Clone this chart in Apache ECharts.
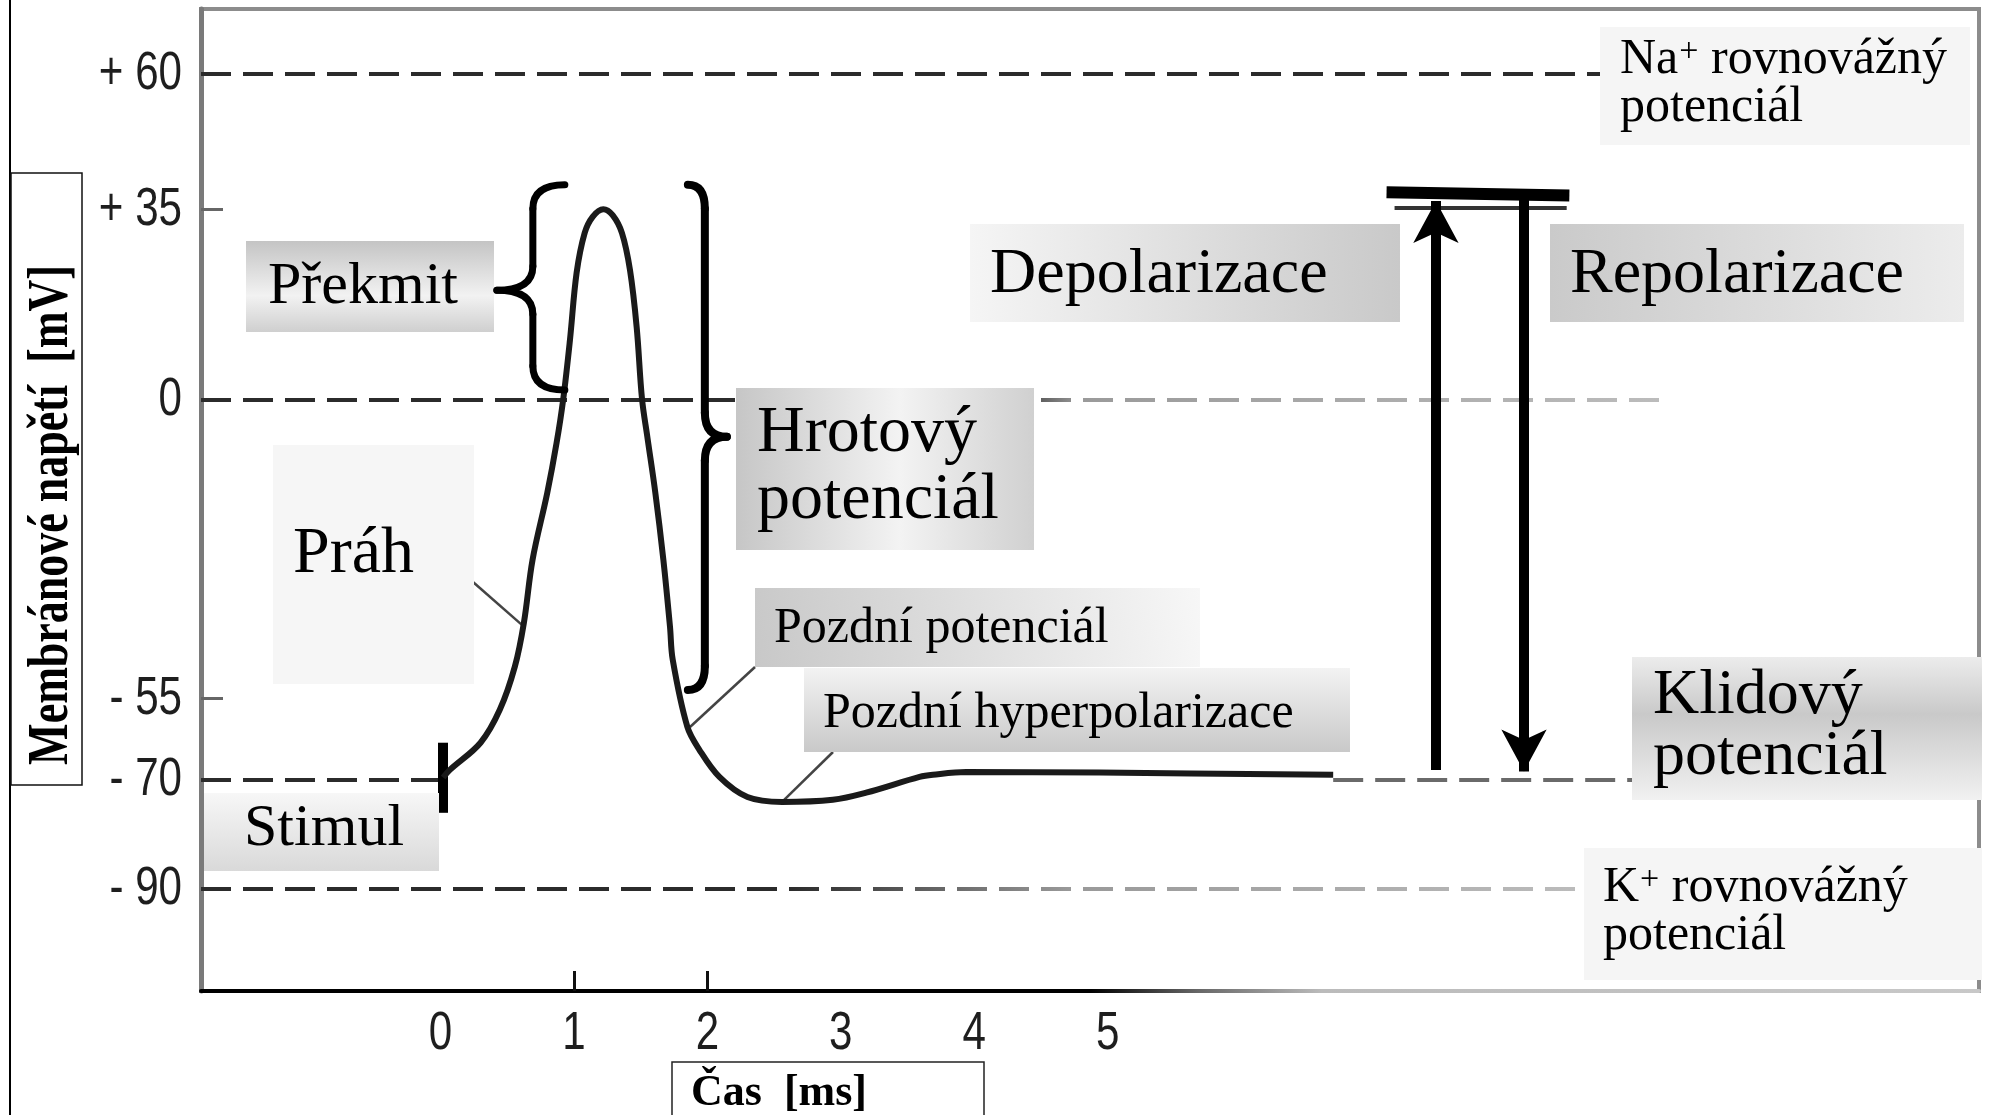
<!DOCTYPE html>
<html>
<head>
<meta charset="utf-8">
<script src="https://cdn.jsdelivr.net/npm/echarts@6/dist/echarts.min.js"></script>
<style>
  html, body { margin: 0; padding: 0; background: #fff; }
  #main { width: 1996px; height: 1115px; }
</style>
</head>
<body>
<div id="main"></div>
<script>
// membrane potential trace (time in ms, voltage in mV)
const timeMs = [0.02, 0.07, 0.30, 0.445, 0.557, 0.625, 0.69, 0.80, 0.87, 0.92, 0.97, 1.02, 1.08, 1.14, 1.22,
  1.29, 1.36, 1.42, 1.47, 1.51, 1.55, 1.61, 1.67, 1.72, 1.74, 1.85, 1.94, 2.09, 2.30, 2.56, 2.94, 3.19,
  3.59, 3.69, 3.94, 4.94, 6.69]
const voltageMv = [-69.5, -68.1, -63.1, -57.0, -49.1, -41.0, -29.4, -17.1, -7.9, 0.2, 11.0, 23.4, 30.7, 33.7, 35.1,
  34.0, 30.7, 23.9, 13.4, 0.2, -6.8, -17.1, -29.4, -41.8, -47.8, -60.2, -64.4, -69.4, -73.1, -74.0, -73.6, -72.3,
  -69.4, -69.0, -68.5, -68.6, -69.0]

const yTickValues = [60, 35, 0, -55, -70, -90]
const yTickLabels = ['+ 60', '+ 35', '0', '- 55', '- 70', '- 90']
const xTickValues = [0, 1, 2, 3, 4, 5]
const xTickLabels = ['0', '1', '2', '3', '4', '5']

const naEquilibrium = 60
const zeroLevel = 0
const restingLevel = -70
const kEquilibrium = -90
const stimulusTime = 0.018
const plateauEnd = 6.69
const depolArrowX = 7.46
const repolArrowX = 8.12

const X_MIN = -1.795
const X_MAX = 11.53
const Y_MIN = -108.8
const Y_MAX = 71.95

const SERIF = '"Liberation Serif", "Times New Roman", serif'
const SANS = '"Liberation Sans", Arial, sans-serif'
const DARK = '#2b2b2b'

const grad = (x, y, x2, y2, stops) => ({
  type: 'linear', x, y, x2, y2,
  colorStops: stops.map(s => ({ offset: s[0], color: s[1] }))
})

const dash = [30, 12]

const chart = echarts.init(document.getElementById('main'))

chart.setOption({
  animation: false,
  backgroundColor: '#fff',
  grid: {
    left: 201, right: 17, top: 9, bottom: 124,
    show: true, borderColor: '#8c8c8c', borderWidth: 4,
    outerBoundsMode: 'none'
  },
  xAxis: {
    type: 'value', min: X_MIN, max: X_MAX,
    splitLine: { show: false },
    axisLine: {
      show: true, onZero: false,
      lineStyle: { width: 4, color: grad(0, 0, 1, 0, [[0, '#000'], [0.5, '#000'], [0.56, '#666'], [0.63, '#bbb'], [1, '#c8c8c8']]) }
    },
    axisTick: { show: true, inside: true, length: 20, customValues: [1, 2], lineStyle: { color: '#111', width: 3 } },
    axisLabel: { show: false }
  },
  yAxis: {
    type: 'value', min: Y_MIN, max: Y_MAX,
    splitLine: { show: false },
    axisLine: { show: true, onZero: false, lineStyle: { color: '#7a7a7a', width: 5 } },
    axisTick: { show: true, inside: true, length: 22, customValues: [35, -55], lineStyle: { color: '#666', width: 3 } },
    axisLabel: { show: false }
  },
  series: [
    {
      name: 'levels',
      type: 'line',
      data: [],
      z: 3,
      markLine: {
        silent: true,
        symbol: ['none', 'none'],
        label: { show: false },
        emphasis: { disabled: true },
        data: [
          [{ coord: [X_MIN, naEquilibrium], lineStyle: { color: DARK, width: 4, type: dash } }, { coord: [8.7, naEquilibrium] }],
          [{ coord: [X_MIN, zeroLevel], lineStyle: { width: 4, type: dash,
            color: grad(0, 0, 1, 0, [[0, DARK], [0.55, DARK], [0.6, '#9a9a9a'], [1, '#bcbcbc']]) } }, { coord: [9.17, zeroLevel] }],
          [{ coord: [X_MIN, restingLevel], lineStyle: { color: DARK, width: 4, type: dash } }, { coord: [stimulusTime, restingLevel] }],
          [{ coord: [plateauEnd, restingLevel], lineStyle: { color: '#6a6a6a', width: 4, type: dash } }, { coord: [9.2, restingLevel] }],
          [{ coord: [X_MIN, kEquilibrium], lineStyle: { width: 4, type: dash,
            color: grad(0, 0, 1, 0, [[0, DARK], [0.42, DARK], [0.62, '#999'], [1, '#bdbdbd']]) } }, { coord: [8.7, kEquilibrium] }],
          // stimulus mark
          [{ coord: [stimulusTime, -63.1], lineStyle: { color: '#000', width: 10, type: 'solid' } }, { coord: [stimulusTime, -76.0] }],
          // top bars over the arrows
          [{ coord: [7.09, 38.2], lineStyle: { color: '#000', width: 12, type: 'solid' } }, { coord: [8.46, 37.6] }],
          [{ coord: [7.15, 35.3], lineStyle: { color: '#333', width: 4, type: 'solid' } }, { coord: [8.44, 35.3] }],
          // pointers from labels to the curve
          [{ x: 473, y: 582, lineStyle: { color: '#444', width: 2.5, type: 'solid' } }, { coord: [0.61, -41.4] }],
          [{ x: 755, y: 667, lineStyle: { color: '#444', width: 2.5, type: 'solid' } }, { coord: [1.87, -60.2] }],
          [{ x: 833, y: 752, lineStyle: { color: '#444', width: 2.5, type: 'solid' } }, { coord: [2.56, -74.0] }]
        ]
      }
    },
    {
      name: 'arrows',
      type: 'line',
      data: [],
      z: 4,
      markLine: {
        silent: true,
        symbol: ['none', 'arrow'],
        symbolSize: [34, 42],
        label: { show: false },
        emphasis: { disabled: true },
        lineStyle: { color: '#000', width: 10, type: 'solid' },
        data: [
          [{ coord: [depolArrowX, -68.1] }, { coord: [depolArrowX, 36.6] }],
          [{ coord: [repolArrowX, 38.0] }, { coord: [repolArrowX, -68.4] }]
        ]
      }
    },
    {
      name: 'Membránové napětí',
      type: 'line',
      data: timeMs.map((t, i) => [t, voltageMv[i]]),
      showSymbol: false,
      smooth: 0.35,
      z: 5,
      lineStyle: { color: '#1a1a1a', width: 6 }
    }
  ]
})

// ---- annotations ----
const toPx = (x, y) => chart.convertToPixel({ gridIndex: 0 }, [x, y])

const measure = (() => {
  const ctx = document.createElement('canvas').getContext('2d')
  return (s, size) => {
    ctx.font = size + 'px ' + SERIF
    return ctx.measureText(s).width
  }
})()

function txt(left, baseline, s, size, extra) {
  const el = {
    type: 'text', x: left, y: baseline - 0.34 * size, z: 21,
    style: { text: s, fontFamily: SERIF, fontSize: size, fill: '#000', align: 'left', verticalAlign: 'middle' }
  }
  if (extra) Object.assign(el.style, extra)
  return el
}

function box(x, y, w, h, fill) {
  return { type: 'rect', z: 20, shape: { x, y, width: w, height: h }, style: { fill } }
}

function ionLabel(left, baseline, ion) {
  const w1 = measure(ion, 50)
  const w2 = measure('+', 34)
  return [
    txt(left, baseline, ion, 50),
    txt(left + w1 + 1, baseline - 13, '+', 34),
    txt(left + w1 + w2 + 1, baseline, ' rovnovážný', 50),
    txt(left, baseline + 48, 'potenciál', 50)
  ]
}

// tick labels: narrow, tall digits as in the scan, placed through the axis scales
function tickLabels() {
  const out = []
  yTickValues.forEach((v, i) => {
    const p = toPx(X_MIN, v)
    out.push({
      type: 'text', z: 21, x: p[0] - 19, y: p[1], scaleX: 0.78,
      style: { text: yTickLabels[i], fontFamily: SANS, fontSize: 54, fill: '#1e1e1e', align: 'right', verticalAlign: 'middle' }
    })
  })
  xTickValues.forEach((v, i) => {
    const p = toPx(v, Y_MIN)
    out.push({
      type: 'text', z: 21, x: p[0], y: p[1] + 43, scaleX: 0.78,
      style: { text: xTickLabels[i], fontFamily: SANS, fontSize: 54, fill: '#1e1e1e', align: 'center', verticalAlign: 'middle' }
    })
  })
  return out
}

const V = stops => new echarts.graphic.LinearGradient(0, 0, 0, 1, stops.map(s => ({ offset: s[0], color: s[1] })))
const H = stops => new echarts.graphic.LinearGradient(0, 0, 1, 0, stops.map(s => ({ offset: s[0], color: s[1] })))

// curly braces spanning data ranges
const bracePrekmit = { x: 0.692, top: 39.6, tip: 20.2, bottom: 1.8, dir: -1, w: 32, d: 36, lw: 7 }
const braceHrot = { x: 1.981, top: 39.6, tip: -6.8, bottom: -53.4, dir: 1, w: 17, d: 22, lw: 8 }

function braceEls(b) {
  const sx = toPx(b.x, b.top)[0]
  const y0 = toPx(b.x, b.top)[1]
  const ym = toPx(b.x, b.tip)[1]
  const y1 = toPx(b.x, b.bottom)[1]
  const r = 24
  const e = sx - b.dir * b.w, t = sx + b.dir * b.d
  const style = { fill: null, stroke: '#000', lineWidth: b.lw, lineCap: 'round', lineJoin: 'round' }
  const q = (x1, y1, cx, cy, x2, y2) => ({ type: 'bezierCurve', z: 21, shape: { x1, y1, cpx1: cx, cpy1: cy, x2, y2 }, style })
  const l = (x1, y1, x2, y2) => ({ type: 'line', z: 21, shape: { x1, y1, x2, y2 }, style })
  return [
    q(e, y0, sx, y0, sx, y0 + r),
    l(sx, y0 + r, sx, ym - r),
    q(sx, ym - r, sx, ym, t, ym),
    q(t, ym, sx, ym, sx, ym + r),
    l(sx, ym + r, sx, y1 - r),
    q(sx, y1 - r, sx, y1, e, y1)
  ]
}

const elements = [
  { type: 'line', z: 20, shape: { x1: 10, y1: 0, x2: 10, y2: 1115 }, style: { stroke: '#000', lineWidth: 2 } },
  { type: 'rect', z: 20, shape: { x: 11, y: 173, width: 71, height: 612 }, style: { fill: '#fff', stroke: '#111', lineWidth: 1.5 } },
  {
    type: 'text', z: 21, x: 52.6, y: 515, rotation: Math.PI / 2, scaleY: 1.3,
    style: { text: 'Membránové napětí  [mV]', fontFamily: SERIF, fontWeight: 'bold', fontSize: 44, fill: '#000', align: 'center', verticalAlign: 'middle' }
  },
  { type: 'rect', z: 20, shape: { x: 672, y: 1062, width: 312, height: 70 }, style: { fill: '#fff', stroke: '#222', lineWidth: 1.5 } },
  txt(691, 1109, 'Čas  [ms]', 44, { fontWeight: 'bold' }),

  box(246, 241, 248, 91, V([[0, '#c4c4c4'], [0.6, '#f2f2f2'], [1, '#cfcfcf']])),
  txt(268, 308, 'Překmit', 60),
  box(273, 445, 201, 239, '#f6f6f6'),
  txt(293, 577, 'Práh', 66),
  box(736, 388, 298, 162, H([[0, '#c6c6c6'], [0.55, '#f3f3f3'], [1, '#d0d0d0']])),
  txt(757, 456, 'Hrotový', 66),
  txt(757, 523, 'potenciál', 66),
  box(755, 588, 445, 79, new echarts.graphic.LinearGradient(0, 1, 1, 0, [{ offset: 0, color: '#c8c8c8' }, { offset: 1, color: '#f7f7f7' }])),
  txt(774, 646, 'Pozdní potenciál', 50),
  box(804, 668, 546, 84, V([[0, '#f3f3f3'], [1, '#c9c9c9']])),
  txt(823, 731, 'Pozdní hyperpolarizace', 50),
  box(204, 793, 235, 78, V([[0, '#f7f7f7'], [1, '#d9d9d9']])),
  txt(244, 850, 'Stimul', 60),
  box(970, 224, 430, 98, H([[0, '#f5f5f5'], [1, '#c9c9c9']])),
  txt(990, 297, 'Depolarizace', 64),
  box(1550, 224, 414, 98, H([[0, '#cacaca'], [1, '#ececec']])),
  txt(1570, 297, 'Repolarizace', 64),
  box(1600, 27, 370, 118, '#f5f5f5'),
  ...ionLabel(1620, 77, 'Na'),
  box(1632, 657, 350, 143, V([[0, '#ececec'], [0.4, '#c9c9c9'], [1, '#f1f1f1']])),
  txt(1653, 718, 'Klidový', 64),
  txt(1653, 779, 'potenciál', 64),
  box(1584, 848, 398, 132, '#f5f5f5'),
  ...ionLabel(1603, 905, 'K'),

  ...tickLabels(),
  ...braceEls(bracePrekmit),
  ...braceEls(braceHrot)
]

chart.setOption({ graphic: { elements } })
</script>
</body>
</html>
